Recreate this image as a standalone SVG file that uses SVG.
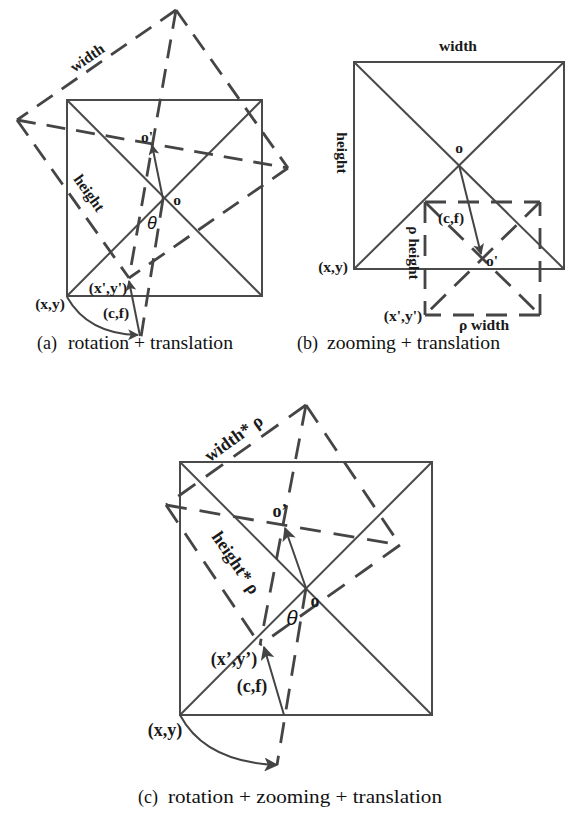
<svg xmlns="http://www.w3.org/2000/svg" width="575" height="813" viewBox="0 0 575 813">
<defs>
<marker id="ah" viewBox="0 0 10 10" refX="9" refY="5" markerWidth="11" markerHeight="11" markerUnits="userSpaceOnUse" orient="auto"><path d="M0,0 L10,5 L0,10 L2.5,5 Z" fill="#444"/></marker>
<marker id="ahl" viewBox="0 0 10 10" refX="9" refY="5" markerWidth="14" markerHeight="14" markerUnits="userSpaceOnUse" orient="auto"><path d="M0,0 L10,5 L0,10 L2.5,5 Z" fill="#444"/></marker>
</defs>
<style>
.s{stroke:#4a4a4a;stroke-width:2;fill:none}
.d{stroke:#454545;stroke-width:2.8;fill:none;stroke-dasharray:19 11}
.db{stroke:#454545;stroke-width:2.8;fill:none;stroke-dasharray:21 12}
.d2{stroke:#454545;stroke-width:2.8;fill:none;stroke-dasharray:21 13}
.a{stroke:#444;stroke-width:2;fill:none;marker-end:url(#ah)}
.al{stroke:#444;stroke-width:2;fill:none;marker-end:url(#ahl)}
.t{font-family:"Liberation Serif",serif;font-weight:bold;fill:#1a1a1a;font-size:15.5px;text-anchor:middle}
.tc{font-family:"Liberation Serif",serif;font-weight:bold;fill:#1a1a1a;font-size:18px;text-anchor:middle}
.th{font-family:"Liberation Sans",sans-serif;font-style:italic;fill:#111;text-anchor:middle}
.cap{font-family:"Liberation Serif",serif;font-size:18px;fill:#111}
</style>

<!-- Panel (a) -->
<g id="a-square">
<rect class="s" x="67" y="100" width="195" height="196"/>
<line class="s" x1="67" y1="100" x2="262" y2="296"/>
<line class="s" x1="262" y1="100" x2="67" y2="296"/>
</g>
<g id="a-rotated">
<line class="d" x1="176" y1="10" x2="17" y2="120"/>
<line class="d" x1="176" y1="10" x2="288" y2="168"/>
<line class="d" x1="17" y1="120" x2="129" y2="278"/>
<line class="d" x1="288" y1="168" x2="129" y2="278"/>
<line class="d" x1="176" y1="10" x2="129" y2="278"/>
<line class="d" x1="17" y1="120" x2="288" y2="168"/>
</g>
<g id="a-labels">
<text class="t" transform="translate(90,62) rotate(-34.7)">width</text>
<text class="t" transform="translate(85,196) rotate(54.7)">height</text>
<text class="t" x="147" y="142" font-size="14">o'</text>
<text class="t" x="177" y="205" font-size="13">o</text>
<text class="th" x="152" y="229" font-size="18">θ</text>
<text class="t" x="108" y="293">(x',y')</text>
<text class="t" x="116" y="318">(c,f)</text>
<text class="t" x="50" y="309">(x,y)</text>
</g>

<!-- Panel (b) -->
<g id="b-square">
<rect class="s" x="354" y="62" width="210" height="207"/>
<line class="s" x1="354" y1="62" x2="564" y2="269"/>
<line class="s" x1="564" y1="62" x2="354" y2="269"/>
</g>
<g id="b-zoomed">
<line class="db" x1="425" y1="202" x2="540" y2="202"/>
<line class="db" x1="425" y1="202" x2="425" y2="315"/>
<line class="db" x1="540" y1="315" x2="540" y2="202"/>
<line class="db" x1="540" y1="315" x2="425" y2="315"/>
<line class="db" x1="425" y1="202" x2="540" y2="315"/>
<line class="db" x1="540" y1="202" x2="425" y2="315"/>
</g>
<g id="b-labels">
<text class="t" x="458" y="51">width</text>
<text class="t" transform="translate(337,153) rotate(90)">height</text>
<text class="t" x="459" y="153" font-size="13">o</text>
<text class="t" x="451" y="223">(c,f)</text>
<text class="t" transform="translate(409,253) rotate(90)">ρ height</text>
<text class="t" x="492" y="266" font-size="14">o'</text>
<text class="t" x="333" y="272">(x,y)</text>
<text class="t" x="403" y="321">(x',y')</text>
<text class="t" x="484" y="330">ρ width</text>
</g>

<!-- Panel (c) -->
<g id="c-square">
<rect class="s" x="180" y="462" width="252" height="253"/>
<line class="s" x1="180" y1="462" x2="432" y2="715"/>
<line class="s" x1="432" y1="462" x2="180" y2="715"/>
</g>
<g id="c-rotated">
<line class="d2" x1="306" y1="405" x2="166" y2="505"/>
<line class="d2" x1="306" y1="405" x2="400" y2="545"/>
<line class="d2" x1="166" y1="505" x2="260" y2="645"/>
<line class="d2" x1="400" y1="545" x2="260" y2="645"/>
<line class="d2" x1="306" y1="405" x2="260" y2="645"/>
<line class="d2" x1="166" y1="505" x2="400" y2="545"/>
</g>
<g id="c-labels">
<text class="tc" transform="translate(237,443) rotate(-35.5)" font-size="16.5">width* ρ</text>
<text class="tc" transform="translate(231,566) rotate(56)" font-size="16.5">height* ρ</text>
<text class="tc" x="280" y="517" font-size="17">o’</text>
<text class="tc" x="315" y="607" font-size="13">o</text>
<text class="th" x="292" y="625" font-size="21">θ</text>
<text class="tc" x="234" y="665">(x’,y’)</text>
<text class="tc" x="252" y="692">(c,f)</text>
<text class="tc" x="165" y="736">(x,y)</text>
</g>

<g id="connectors">
<line class="d" x1="163" y1="199" x2="141" y2="337"/>
<line class="a" x1="163" y1="199" x2="152" y2="145"/>
<line class="a" x1="140" y1="336" x2="129" y2="281"/>
<path class="a" d="M67,297 Q88,334 138,335"/>
<line class="a" x1="459" y1="165" x2="481" y2="254"/>
<line class="d2" x1="306" y1="588" x2="277" y2="765"/>
<line class="al" x1="306" y1="588" x2="285" y2="528"/>
<line class="al" x1="284" y1="715" x2="264" y2="647"/>
<path class="al" d="M180,715 Q205,762 277,765"/>
</g>

<g id="captions">
<text class="cap" x="37" y="349">(a)</text>
<text class="cap" x="68" y="349" textLength="165" lengthAdjust="spacingAndGlyphs">rotation + translation</text>
<text class="cap" x="297" y="349">(b)</text>
<text class="cap" x="327" y="349" textLength="173" lengthAdjust="spacingAndGlyphs">zooming + translation</text>
<text class="cap" x="138" y="803">(c)</text>
<text class="cap" x="168" y="803" textLength="274" lengthAdjust="spacingAndGlyphs">rotation + zooming + translation</text>
</g>
</svg>
